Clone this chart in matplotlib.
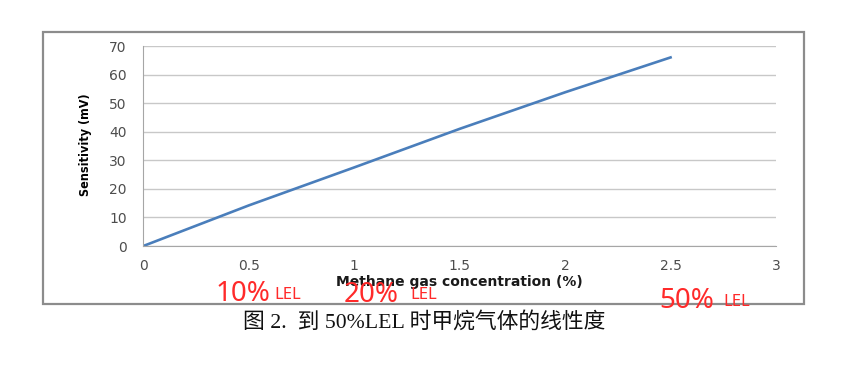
import matplotlib.pyplot as plt
from matplotlib.patches import Rectangle

# Methane concentration (%) vs sensor output (mV)
concentration = [0, 0.5, 1.0, 1.5, 2.0, 2.5]
sensitivity = [0, 14.2, 27.5, 41.0, 53.8, 66.0]

x_ticks = [0, 0.5, 1, 1.5, 2, 2.5, 3]
x_tick_labels = ['0', '0.5', '1', '1.5', '2', '2.5', '3']
y_ticks = [0, 10, 20, 30, 40, 50, 60, 70]

W, H = 864, 378
fig = plt.figure(figsize=(W / 100, H / 100), dpi=100)


def fx(px):
    return px / W


def fy(py):
    return 1 - py / H


# outer chart frame
fig.patches.append(Rectangle((fx(43), fy(304)), fx(804) - fx(43), fy(32) - fy(304),
                             transform=fig.transFigure, fill=False,
                             edgecolor='#8c8c8c', linewidth=1.6))

ax = fig.add_axes([fx(143.3), fy(246), fx(776) - fx(143.3), fy(46) - fy(246)])
ax.plot(concentration, sensitivity, color='#4a7ebb', linewidth=1.9)

ax.set_xlim(0, 3)
ax.set_ylim(0, 70)
ax.set_xticks(x_ticks)
ax.set_xticklabels(x_tick_labels)
ax.set_yticks(y_ticks)
ax.grid(axis='y', color='#c8c8c8', linewidth=1.0)
ax.set_axisbelow(True)
for s in ['top', 'right']:
    ax.spines[s].set_visible(False)
for s in ['left', 'bottom']:
    ax.spines[s].set_color('#a6a6a6')
ax.tick_params(length=0, labelsize=10, labelcolor='#4d4d4d')
ax.tick_params(axis='y', pad=12)
ax.tick_params(axis='x', pad=9)

fig.text(fx(85), fy(145), 'Sensitivity (mV)', rotation=90, ha='center', va='center',
         fontsize=9, fontweight='bold', fontstretch='condensed', color='black')
fig.text(fx(459), fy(282), 'Methane gas concentration (%)', ha='center', va='center',
         fontsize=10, fontweight='bold', color='#1a1a1a')

red = '#ff2a2a'
fig.text(fx(216), fy(301), '10%', fontsize=20, color=red, family='Noto Sans', va='baseline')
fig.text(fx(274), fy(299), 'LEL', fontsize=12, color=red, family='Noto Sans', va='baseline')
fig.text(fx(344), fy(302), '20%', fontsize=20, color=red, family='Noto Sans', va='baseline')
fig.text(fx(410), fy(299), 'LEL', fontsize=12, color=red, family='Noto Sans', va='baseline')
fig.text(fx(659), fy(308), '50%', fontsize=20, color=red, family='Noto Sans', va='baseline')
fig.text(fx(723), fy(306), 'LEL', fontsize=12, color=red, family='Noto Sans', va='baseline')

fig.text(fx(424), fy(328), '图 2.  到 50%LEL 时甲烷气体的线性度', ha='center', va='baseline',
         fontsize=15.7, color='#111111', family=['Liberation Serif', 'Noto Sans CJK SC'])

fig.savefig('out.png', dpi=100)
